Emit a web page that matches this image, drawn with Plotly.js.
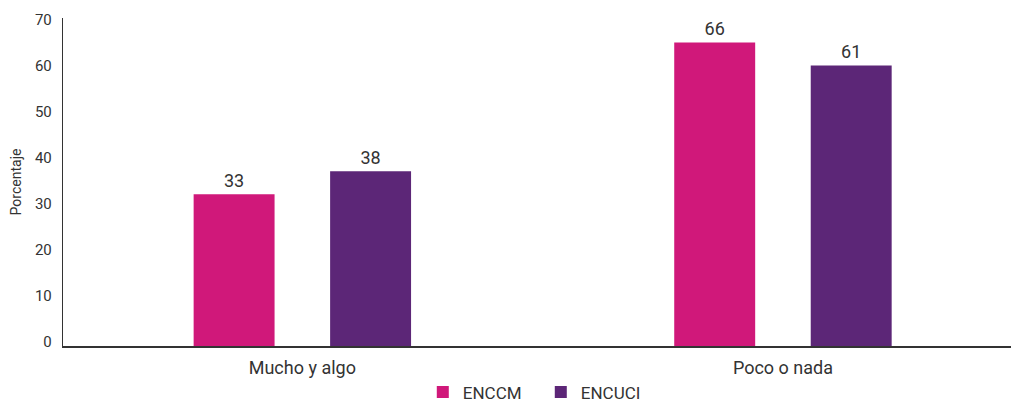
<!DOCTYPE html>
<html>
<head>
<meta charset="utf-8">
<script src="https://cdn.plot.ly/plotly-3.0.1.min.js"></script>
<style>html,body{margin:0;padding:0;background:#fff;}#chart{width:1011px;height:403px;}</style>
</head>
<body>
<div id="chart"></div>
<script>
const categories = ["Mucho y algo", "Poco o nada"];
const seriesNames = ["ENCCM", "ENCUCI"];
const enccm = [33, 66];
const encuci = [38, 61];
const yTicks = [0, 10, 20, 30, 40, 50, 60, 70];

const FONT = "Roboto, sans-serif";
const colors = ["#D0187A", "#5C2677"];

const traces = [enccm, encuci].map((vals, i) => ({
  type: "bar",
  name: seriesNames[i],
  x: categories,
  y: vals,
  text: vals.map(String),
  textposition: "outside",
  cliponaxis: false,
  textfont: {family: FONT, size: 18, color: "#333"},
  marker: {color: colors[i]},
  hoverinfo: "x+y+name"
}));

const layout = {
  width: 1011, height: 403,
  margin: {l: 63, r: 0, t: 18, b: 57, autoexpand: false},
  paper_bgcolor: "#fff", plot_bgcolor: "#fff",
  font: {family: FONT, color: "#333"},
  barmode: "group",
  bargap: 0.432,
  bargroupgap: 0.407,
  showlegend: true,
  legend: {
    orientation: "h", x: 0.504, xanchor: "center",
    yref: "container", y: 0.026, yanchor: "middle",
    font: {family: FONT, size: 17, color: "#333"},
    itemwidth: 30, entrywidth: 73, tracegroupgap: 0
  },
  xaxis: {
    type: "category",
    range: [-0.498, 1.4745],
    showline: true, linecolor: "#333", linewidth: 1.5,
    ticks: "", showgrid: false, zeroline: false,
    tickfont: {family: FONT, size: 18, color: "#333"},
    ticklabelstandoff: 5,
    automargin: false,
    fixedrange: true
  },
  yaxis: {
    range: [0, 71.3],
    tickvals: yTicks,
    ticktext: yTicks.map(String),
    showline: true, linecolor: "#333", linewidth: 1.2,
    ticks: "", showgrid: false, zeroline: false,
    tickfont: {family: FONT, size: 15, color: "#333"},
    ticklabelstandoff: 7,
    ticklabelshift: -4,
    automargin: false,
    title: {text: "Porcentaje", font: {family: FONT, size: 14, color: "#333"}, standoff: 10},
    fixedrange: true
  }
};

Plotly.newPlot("chart", traces, layout, {displayModeBar: false, staticPlot: true});
</script>
</body>
</html>
